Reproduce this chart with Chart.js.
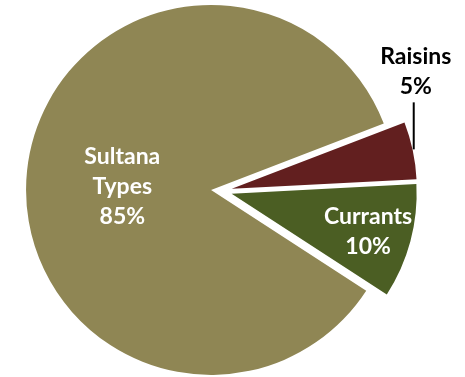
<!DOCTYPE html>
<html><head><meta charset="utf-8">
<script src="https://cdn.jsdelivr.net/npm/chart.js@4/dist/chart.umd.min.js"></script>
<style>html,body{margin:0;padding:0;background:#fff;overflow:hidden}</style>
</head><body>
<canvas id="c" width="465" height="377"></canvas>
<script>
// ---- data ----
const categories = ['Sultana Types', 'Raisins', 'Currants'];
const labelLines = [['Sultana', 'Types'], ['Raisins'], ['Currants']];
const shares = [85, 5, 10];

// ---- style ----
const sliceColors = ['#8F8654', '#621F1F', '#4B5E23'];
const EXPLODE = 10.5;
const FONT = 'bold 23px Lato, "Open Sans", sans-serif';
const LINE_H = 30;

const explodePlugin = {
  id: 'explode',
  afterDatasetUpdate(chart, args) {
    const meta = chart.getDatasetMeta(args.index);
    meta.data.forEach(arc => {
      const mid = (arc.startAngle + arc.endAngle) / 2;
      arc.x += EXPLODE * Math.cos(mid);
      arc.y += EXPLODE * Math.sin(mid);
    });
  }
};

const labelPlugin = {
  id: 'sliceLabels',
  afterDatasetsDraw(chart) {
    const ctx = chart.ctx;
    const meta = chart.getDatasetMeta(0);
    ctx.save();
    ctx.font = FONT;
    ctx.textAlign = 'center';
    ctx.textBaseline = 'middle';
    meta.data.forEach((arc, i) => {
      const mid = (arc.startAngle + arc.endAngle) / 2;
      const r = arc.outerRadius;
      const lines = labelLines[i].concat([shares[i] + '%']);
      if (i === 1) {
        const ox = arc.x + r * Math.cos(mid);
        const oy = arc.y + r * Math.sin(mid);
        ctx.strokeStyle = '#000';
        ctx.lineWidth = 2;
        ctx.beginPath();
        ctx.moveTo(ox + 1, oy - 1);
        ctx.lineTo(ox + 1, oy - 48);
        ctx.stroke();
        ctx.fillStyle = '#000';
        const cx = ox + 3;
        const bottom = oy - 64;
        lines.forEach((t, k) => ctx.fillText(t, cx, bottom - (lines.length - 1 - k) * LINE_H));
      } else {
        const f = i === 0 ? 0.48 : 0.766;
        const a = i === 0 ? mid - 0.07 : mid + 0.012;
        const cx = arc.x + r * f * Math.cos(a);
        const cy = arc.y + r * f * Math.sin(a);
        ctx.fillStyle = '#fff';
        const top = cy - (lines.length - 1) * LINE_H / 2;
        lines.forEach((t, k) => ctx.fillText(t, cx, top + k * LINE_H));
      }
    });
    ctx.restore();
  }
};

new Chart(document.getElementById('c'), {
  type: 'pie',
  data: {
    labels: categories,
    datasets: [{
      data: shares,
      backgroundColor: sliceColors,
      borderWidth: 0
    }]
  },
  options: {
    responsive: false,
    animation: false,
    rotation: 123,
    radius: 185,
    layout: { padding: { left: 0, right: 22, top: 5, bottom: 0 } },
    plugins: { legend: { display: false }, tooltip: { enabled: false } }
  },
  plugins: [explodePlugin, labelPlugin]
});
</script>
</body></html>
